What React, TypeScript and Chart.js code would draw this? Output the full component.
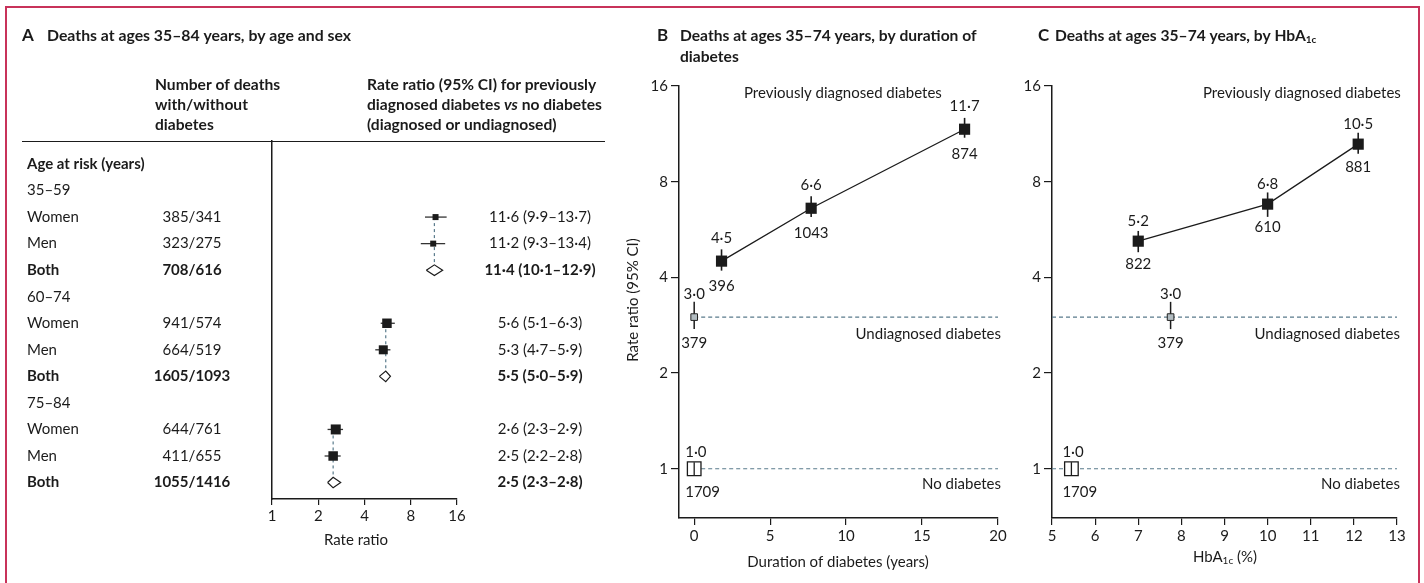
import React, { useEffect, useRef } from "react";
import { Chart, registerables } from "chart.js";

Chart.register(...registerables);

/* ---------------- data ---------------- */
// Panel A: deaths at ages 35–84, by age and sex
const ageGroups = ["35–59", "60–74", "75–84"];
const sexRows = ["Women", "Men", "Both"];
const deathsWithWithout = ["385/341", "323/275", "708/616", "941/574", "664/519", "1605/1093", "644/761", "411/655", "1055/1416"];
const rateRatioA = [11.6, 11.2, 11.4, 5.6, 5.3, 5.5, 2.6, 2.5, 2.5];
const ciLowA = [9.9, 9.3, 10.1, 5.1, 4.7, 5.0, 2.3, 2.2, 2.3];
const ciHighA = [13.7, 13.4, 12.9, 6.3, 5.9, 5.9, 2.9, 2.8, 2.8];
const rateRatioTicks = [1, 2, 4, 8, 16];

// Panel B: by duration of diabetes
const durationYears = [1.8, 7.7, 17.8];
const durationRR = [4.5, 6.6, 11.7];
const durationLow = [4.2, 6.2, 11.0];
const durationHigh = [4.9, 7.2, 12.7];
const durationDeaths = [396, 1043, 874];
const durationTicks = [0, 5, 10, 15, 20];

// Panel C: by HbA1c
const hba1cPercent = [7.0, 10.0, 12.1];
const hba1cRR = [5.2, 6.8, 10.5];
const hba1cLow = [4.8, 6.2, 9.8];
const hba1cHigh = [5.6, 7.4, 11.4];
const hba1cDeaths = [822, 610, 881];
const hba1cTicks = [5, 6, 7, 8, 9, 10, 11, 12, 13];

// Reference groups (shared by B and C)
const undiagnosedRR = [3.0];
const undiagnosedCI = [2.75, 3.35];
const undiagnosedDeaths = [379];
const undiagnosedDuration = [0];
const undiagnosedHbA1c = [7.75];
const noDiabetesRR = [1.0];
const noDiabetesCI = [0.953, 1.049];
const noDiabetesDeaths = [1709];
const noDiabetesDuration = [0];
const noDiabetesHbA1c = [5.45];

const seriesNames = ["Previously diagnosed diabetes", "Undiagnosed diabetes", "No diabetes"];
const rrAxisTicks = [1, 2, 4, 8, 16];

/* ---------------- styles ---------------- */
const FONT = "Lato, 'Noto Sans', 'DejaVu Sans', sans-serif";
const INK = "#1b1b1b";
const REF_DASH = "#5a7b8c";
const UNDIAG_FILL = "#b2bcc1";
const FRAME = "#c8325a";
const HEAD = 15.6;
const squareSideA = [6, 6, 0, 9.5, 9, 0, 10, 9.5, 0];
const DIAMOND_HALF = 0.2; // in row units

const fmt = (v: number) => v.toFixed(1).replace(".", "\u00B7");

type TOpts = { size?: number; weight?: string; align?: CanvasTextAlign; italic?: boolean };
function drawText(ctx: CanvasRenderingContext2D, s: string, x: number, y: number, o: TOpts = {}) {
  ctx.save();
  ctx.font = `${o.italic ? "italic " : ""}${o.weight ?? "normal"} ${o.size ?? 15}px ${FONT}`;
  ctx.fillStyle = INK;
  ctx.textAlign = o.align ?? "left";
  ctx.textBaseline = "middle";
  ctx.fillText(s, x, y);
  ctx.restore();
}

type Run = { s: string; size?: number; weight?: string; italic?: boolean; dy?: number };
function drawRuns(ctx: CanvasRenderingContext2D, runs: Run[], x: number, y: number, align: "left" | "center" = "left") {
  ctx.save();
  ctx.fillStyle = INK;
  ctx.textBaseline = "middle";
  ctx.textAlign = "left";
  const fontOf = (r: Run) => `${r.italic ? "italic " : ""}${r.weight ?? "normal"} ${r.size ?? 15}px ${FONT}`;
  let total = 0;
  runs.forEach((r) => {
    ctx.font = fontOf(r);
    total += ctx.measureText(r.s).width;
  });
  let cx = align === "center" ? x - total / 2 : x;
  runs.forEach((r) => {
    ctx.font = fontOf(r);
    ctx.fillText(r.s, cx, y + (r.dy ?? 0));
    cx += ctx.measureText(r.s).width;
  });
  ctx.restore();
}

const tickFont = { family: FONT, size: 15 };
const setTicks = (vals: number[]) => (s: any) => {
  s.ticks = vals.map((v) => ({ value: v }));
};

/* ---------------- Panel A ---------------- */
const rowOf = (k: number) => Math.floor(k / 3) * 4 + 2 + (k % 3);

function makePanelA(canvas: HTMLCanvasElement) {
  const datasets: any[] = [];
  ageGroups.forEach((_, g) => {
    const iW = g * 3;
    const iB = g * 3 + 2;
    datasets.push({
      data: [
        { x: rateRatioA[iB], y: rowOf(iW) },
        { x: rateRatioA[iB], y: rowOf(iB) - DIAMOND_HALF },
      ],
      showLine: true, borderColor: REF_DASH, borderWidth: 1.2, borderDash: [3, 3], pointRadius: 0, order: 20,
    });
  });
  const squareIdx = rateRatioA.map((_, k) => k).filter((k) => k % 3 !== 2);
  squareIdx.forEach((k) => {
    datasets.push({
      data: [
        { x: ciLowA[k], y: rowOf(k) },
        { x: ciHighA[k], y: rowOf(k) },
      ],
      showLine: true, borderColor: "#333", borderWidth: 1.3, pointRadius: 0, order: 15,
    });
  });
  datasets.push({
    data: squareIdx.map((k) => ({ x: rateRatioA[k], y: rowOf(k) })),
    pointStyle: "rect",
    pointRadius: squareIdx.map((k) => squareSideA[k] / Math.SQRT2),
    backgroundColor: INK, borderWidth: 0, order: 5,
  });
  rateRatioA.forEach((rr, k) => {
    if (k % 3 !== 2) return;
    const r = rowOf(k);
    datasets.push({
      data: [
        { x: ciLowA[k], y: r },
        { x: rr, y: r - DIAMOND_HALF },
        { x: ciHighA[k], y: r },
        { x: rr, y: r + DIAMOND_HALF },
        { x: ciLowA[k], y: r },
      ],
      showLine: true, borderColor: INK, borderWidth: 1.2, borderJoinStyle: "miter", pointRadius: 0, order: 5,
    });
  });

  const decorate = {
    id: "panelA",
    afterDraw(chart: any) {
      const ctx = chart.ctx as CanvasRenderingContext2D;
      const ys = chart.scales.y;
      drawText(ctx, "A", 22, 36, { size: 17, weight: "bold" });
      drawText(ctx, "Deaths at ages 35–84 years, by age and sex", 47, 36, { weight: "bold", size: 15.8 });
      drawText(ctx, "Number of deaths", 155, 85, { weight: "bold", size: HEAD });
      drawText(ctx, "with/without", 155, 105, { weight: "bold", size: HEAD });
      drawText(ctx, "diabetes", 155, 125, { weight: "bold", size: HEAD });
      drawText(ctx, "Rate ratio (95% CI) for previously", 367, 85, { weight: "bold", size: HEAD });
      drawRuns(ctx, [
        { s: "diagnosed diabetes ", weight: "bold", size: HEAD },
        { s: "vs", weight: "bold", italic: true, size: HEAD },
        { s: " no diabetes", weight: "bold", size: HEAD },
      ], 367, 105);
      drawText(ctx, "(diagnosed or undiagnosed)", 367, 125, { weight: "bold", size: HEAD });
      ctx.save();
      ctx.strokeStyle = INK;
      ctx.lineWidth = 1.2;
      ctx.beginPath();
      ctx.moveTo(22, 141.5);
      ctx.lineTo(605, 141.5);
      ctx.stroke();
      ctx.restore();
      drawText(ctx, "Age at risk (years)", 27, ys.getPixelForValue(0), { weight: "bold" });
      ageGroups.forEach((g, gi) => {
        drawText(ctx, g, 27, ys.getPixelForValue(gi * 4 + 1));
        sexRows.forEach((s, si) => {
          const k = gi * 3 + si;
          const y = ys.getPixelForValue(rowOf(k));
          const weight = si === 2 ? "bold" : "normal";
          drawText(ctx, s, 27, y, { weight });
          drawText(ctx, deathsWithWithout[k], 192, y, { align: "center", weight });
          drawText(ctx, `${fmt(rateRatioA[k])} (${fmt(ciLowA[k])}–${fmt(ciHighA[k])})`, 540, y, { align: "center", weight });
        });
      });
      drawText(ctx, "Rate ratio", 356, 540, { align: "center" });
    },
  };

  return new Chart(canvas, {
    type: "scatter",
    data: { datasets },
    options: {
      animation: false,
      responsive: false,
      events: [],
      layout: { padding: { left: 272, right: 163, top: 141, bottom: 0 } },
      plugins: { legend: { display: false }, tooltip: { enabled: false } },
      scales: {
        x: {
          type: "logarithmic", min: 1, max: 16, bounds: "data",
          afterBuildTicks: setTicks(rateRatioTicks),
          afterFit: (s: any) => { s.height = 84; },
          ticks: { callback: (v: any) => String(v), font: tickFont, color: INK, padding: 2, autoSkip: false, maxRotation: 0 },
          grid: { drawOnChartArea: false, drawTicks: true, tickLength: 6, color: INK, lineWidth: 1.2 },
          border: { display: true, color: INK, width: 1.5 },
        },
        y: {
          type: "linear", reverse: true, min: -0.866, max: 12.62,
          ticks: { display: false },
          grid: { display: false },
          border: { display: true, color: INK, width: 1.5 },
          afterFit: (s: any) => { s.width = 0; },
        },
      } as any,
    },
    plugins: [decorate],
  } as any);
}

/* ---------------- Panels B and C ---------------- */
interface TrendCfg {
  ox: number;
  xMin: number;
  xMax: number;
  xTicks: number[];
  xs: number[];
  rr: number[];
  lo: number[];
  hi: number[];
  deaths: number[];
  undiagX: number;
  noDiabX: number;
  refFrom: number;
  refTo: number;
  yAxisWidth: number;
  padRight: number;
  prevAbove: number;
  prevBelow: number;
  prevLabelLeft: number;
  decorate: (ctx: CanvasRenderingContext2D, chart: any) => void;
}

function makeTrend(canvas: HTMLCanvasElement, c: TrendCfg) {
  const datasets: any[] = [
    {
      data: [{ x: c.refFrom, y: undiagnosedRR[0] }, { x: c.refTo, y: undiagnosedRR[0] }],
      showLine: true, borderColor: REF_DASH, borderWidth: 1.2, borderDash: [4, 3], pointRadius: 0, order: 20,
    },
    {
      data: [{ x: c.refFrom, y: noDiabetesRR[0] }, { x: c.refTo, y: noDiabetesRR[0] }],
      showLine: true, borderColor: REF_DASH, borderWidth: 1.2, borderDash: [4, 3], pointRadius: 0, order: 20,
    },
    {
      data: c.xs.map((x, i) => ({ x, y: c.rr[i] })),
      showLine: true, borderColor: INK, borderWidth: 1.3, pointRadius: 0, order: 15,
    },
    ...c.xs.map((x, i) => ({
      data: [{ x, y: c.lo[i] }, { x, y: c.hi[i] }],
      showLine: true, borderColor: INK, borderWidth: 1.6, pointRadius: 0, order: 12,
    })),
    {
      data: [{ x: c.undiagX, y: undiagnosedCI[0] }, { x: c.undiagX, y: undiagnosedCI[1] }],
      showLine: true, borderColor: INK, borderWidth: 1.5, pointRadius: 0, order: 12,
    },
    {
      data: c.xs.map((x, i) => ({ x, y: c.rr[i] })),
      pointStyle: "rect", pointRadius: 7.9, backgroundColor: INK, borderWidth: 0, order: 5,
    },
    {
      data: [{ x: c.undiagX, y: undiagnosedRR[0] }],
      pointStyle: "rect", pointRadius: 4.7, backgroundColor: UNDIAG_FILL, borderColor: "#222", borderWidth: 1, order: 5,
    },
    {
      data: [{ x: c.noDiabX, y: noDiabetesRR[0] }],
      pointStyle: "rect", pointRadius: 9.6, backgroundColor: "#ffffff", borderColor: INK, borderWidth: 1.3, order: 4,
    },
    {
      data: [{ x: c.noDiabX, y: noDiabetesCI[0] }, { x: c.noDiabX, y: noDiabetesCI[1] }],
      showLine: true, borderColor: INK, borderWidth: 1.3, pointRadius: 0, order: 3,
    },
  ];

  const deco = {
    id: "trendText",
    afterDraw(chart: any) {
      const ctx = chart.ctx as CanvasRenderingContext2D;
      const xs = chart.scales.x;
      const ys = chart.scales.y;
      const ca = chart.chartArea;
      c.decorate(ctx, chart);
      c.xs.forEach((x, i) => {
        const px = xs.getPixelForValue(x);
        const py = ys.getPixelForValue(c.rr[i]);
        drawText(ctx, fmt(c.rr[i]), px, py - c.prevAbove, { align: "center" });
        drawText(ctx, String(c.deaths[i]), px, py + c.prevBelow, { align: "center" });
      });
      const ux = xs.getPixelForValue(c.undiagX);
      const uy = ys.getPixelForValue(undiagnosedRR[0]);
      drawText(ctx, fmt(undiagnosedRR[0]), ux, uy - 23, { align: "center" });
      drawText(ctx, String(undiagnosedDeaths[0]), ux, uy + 26, { align: "center" });
      const nx = xs.getPixelForValue(c.noDiabX);
      const ny = ys.getPixelForValue(noDiabetesRR[0]);
      drawText(ctx, fmt(noDiabetesRR[0]), nx - 9, ny - 17);
      drawText(ctx, String(noDiabetesDeaths[0]), nx - 9, ny + 23);
      drawText(ctx, seriesNames[0], c.prevLabelLeft - c.ox, 93);
      drawText(ctx, seriesNames[1], ca.right + 3, uy + 17, { align: "right" });
      drawText(ctx, seriesNames[2], ca.right + 3, ny + 15, { align: "right" });
    },
  };

  return new Chart(canvas, {
    type: "scatter",
    data: { datasets },
    options: {
      animation: false,
      responsive: false,
      events: [],
      layout: { padding: { left: 0, right: c.padRight, top: 86, bottom: 0 } },
      plugins: { legend: { display: false }, tooltip: { enabled: false } },
      scales: {
        x: {
          type: "linear", min: c.xMin, max: c.xMax, bounds: "data",
          afterBuildTicks: setTicks(c.xTicks),
          afterFit: (s: any) => { s.height = 65; },
          ticks: { callback: (v: any) => String(v), font: tickFont, color: INK, padding: 2, autoSkip: false, maxRotation: 0 },
          grid: { drawOnChartArea: false, drawTicks: true, tickLength: 7, color: INK, lineWidth: 1.2 },
          border: { display: true, color: INK, width: 1.5 },
        },
        y: {
          type: "logarithmic", min: 0.7, max: 16, bounds: "data",
          afterBuildTicks: setTicks(rrAxisTicks),
          afterFit: (s: any) => { s.width = c.yAxisWidth; },
          ticks: { callback: (v: any) => String(v), font: tickFont, color: INK, padding: 3, autoSkip: false },
          grid: { drawOnChartArea: false, drawTicks: true, tickLength: 8, color: INK, lineWidth: 1.2 },
          border: { display: true, color: INK, width: 1.5 },
        },
      } as any,
    },
    plugins: [deco],
  } as any);
}

const B_OX = 620;
const C_OX = 1010;

function makePanelB(canvas: HTMLCanvasElement) {
  return makeTrend(canvas, {
    ox: B_OX,
    xMin: -1, xMax: 20, xTicks: durationTicks,
    xs: durationYears, rr: durationRR, lo: durationLow, hi: durationHigh, deaths: durationDeaths,
    undiagX: undiagnosedDuration[0], noDiabX: noDiabetesDuration[0],
    refFrom: durationTicks[0], refTo: durationTicks[durationTicks.length - 1],
    yAxisWidth: 59, padRight: 12,
    prevAbove: 23, prevBelow: 25, prevLabelLeft: 744,
    decorate: (ctx) => {
      const X = (px: number) => px - B_OX;
      drawText(ctx, "B", X(657), 36, { size: 17, weight: "bold" });
      drawText(ctx, "Deaths at ages 35–74 years, by duration of", X(680), 36, { weight: "bold", size: 15.6 });
      drawText(ctx, "diabetes", X(680), 57, { weight: "bold", size: 15.6 });
      ctx.save();
      ctx.translate(X(633), 300);
      ctx.rotate(-Math.PI / 2);
      drawText(ctx, "Rate ratio (95% CI)", 0, 0, { align: "center" });
      ctx.restore();
      drawText(ctx, "Duration of diabetes (years)", X(838), 562, { align: "center" });
    },
  });
}

function makePanelC(canvas: HTMLCanvasElement) {
  return makeTrend(canvas, {
    ox: C_OX,
    xMin: hba1cTicks[0], xMax: hba1cTicks[hba1cTicks.length - 1], xTicks: hba1cTicks,
    xs: hba1cPercent, rr: hba1cRR, lo: hba1cLow, hi: hba1cHigh, deaths: hba1cDeaths,
    undiagX: undiagnosedHbA1c[0], noDiabX: noDiabetesHbA1c[0],
    refFrom: hba1cTicks[0], refTo: hba1cTicks[hba1cTicks.length - 1],
    yAxisWidth: 42, padRight: 27,
    prevAbove: 20, prevBelow: 23, prevLabelLeft: 1203,
    decorate: (ctx) => {
      const X = (px: number) => px - C_OX;
      drawText(ctx, "C", X(1038), 36, { size: 17, weight: "bold" });
      drawRuns(ctx, [
        { s: "Deaths at ages 35–74 years, by HbA", weight: "bold", size: 15.6 },
        { s: "1c", weight: "bold", size: 10, dy: 4 },
      ], X(1055), 36);
      drawRuns(ctx, [
        { s: "HbA" },
        { s: "1c", size: 10, dy: 4 },
        { s: " (%)" },
      ], X(1225), 557, "center");
    },
  });
}

export default function App() {
  const refA = useRef<HTMLCanvasElement>(null);
  const refB = useRef<HTMLCanvasElement>(null);
  const refC = useRef<HTMLCanvasElement>(null);

  useEffect(() => {
    const charts = [makePanelA(refA.current!), makePanelB(refB.current!), makePanelC(refC.current!)];
    return () => charts.forEach((ch) => ch.destroy());
  }, []);

  const cv = (left: number, w: number): React.CSSProperties => ({ position: "absolute", left, top: 0, width: w, height: 583 });

  return (
    <div style={{ position: "absolute", left: 0, top: 0, width: 1424, height: 583, overflow: "hidden", background: "#ffffff" }}>
      <div style={{ position: "absolute", left: 5, top: 6, width: 1415, height: 700, border: `2px solid ${FRAME}`, boxSizing: "border-box" }} />
      <canvas ref={refA} width={620} height={583} style={cv(0, 620)} />
      <canvas ref={refB} width={390} height={583} style={cv(B_OX, 390)} />
      <canvas ref={refC} width={414} height={583} style={cv(C_OX, 414)} />
    </div>
  );
}
